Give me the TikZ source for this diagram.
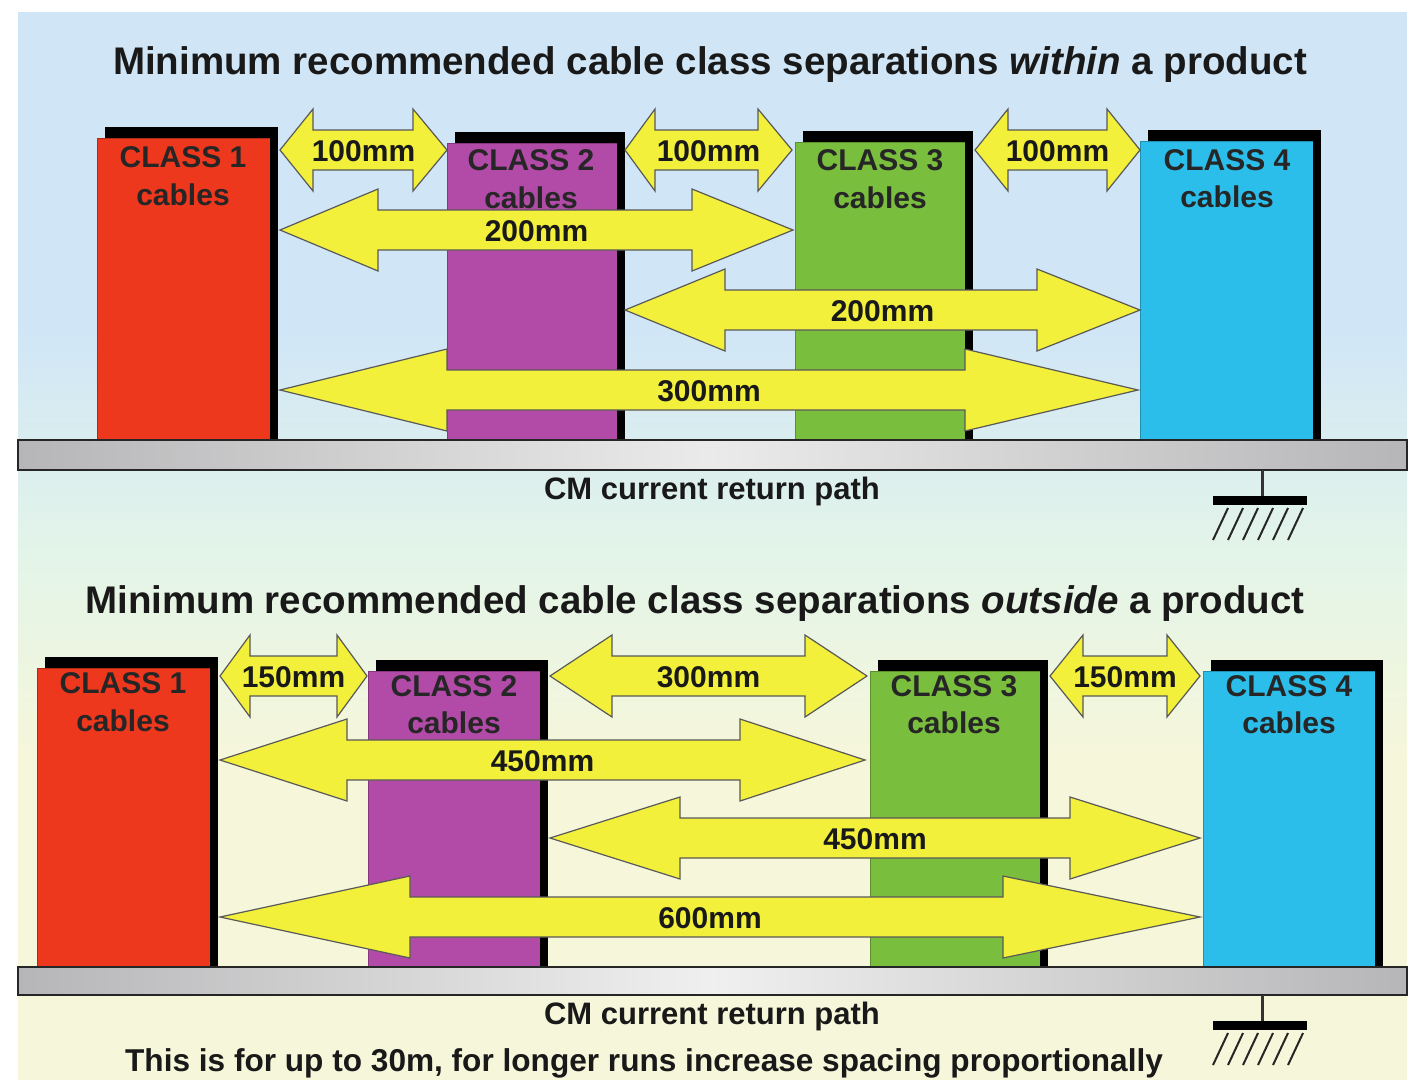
\documentclass[tikz,border=0pt]{standalone}
\usepackage{fontspec}
\setmainfont{Liberation Sans}
\definecolor{bgblue}{RGB}{208,230,246}
\definecolor{bggreen}{RGB}{228,245,232}
\definecolor{bgyellow}{RGB}{246,246,218}
\definecolor{cred}{RGB}{238,56,30}
\definecolor{cpurple}{RGB}{178,74,168}
\definecolor{cgreen}{RGB}{122,190,62}
\definecolor{cblue}{RGB}{44,190,234}
\definecolor{ayellow}{RGB}{242,240,58}
\definecolor{bargray}{RGB}{182,182,184}
\newcommand\mybox[5]{%
  \fill[black] (#1+8,#3-11) rectangle (#2+8,#4);
  \fill[#5] (#1,#3) rectangle (#2,#4);
  \draw[#5!75!black, line width=0.8pt] (#1,#4) -- (#1,#3) -- (#2,#3);
}
\newcommand\dblarr[7]{%
  \filldraw[arr] (#1,#5) -- (#2,#5-41) -- (#2,#5-20) -- (#3,#5-20) -- (#3,#5-41) -- (#4,#5)
     -- (#3,#5+41) -- (#3,#5+20) -- (#2,#5+20) -- (#2,#5+41) -- cycle;
  \node[lbl] (#6) at ({(#1+#4)/2},#5+1) {#7};
}
\newcommand\myground[2]{%
  \draw[line width=3pt, black!80] (#1,#2) -- (#1,#2+28);
  \fill[black] (#1-49,#2+26) rectangle (#1+45,#2+35);
  \foreach \i in {0,...,5}
    \draw[line width=2pt, black!85] (#1-34+\i*15,#2+38) -- (#1-49+\i*15,#2+70);
}
\begin{document}
\begin{tikzpicture}[x=1pt,y=-1pt,
  arr/.style={fill=ayellow, draw=black!65, line width=1.2pt, line join=miter},
  lbl/.style={font=\fontsize{30}{34}\selectfont\bfseries, inner sep=0pt, text=black!90},
  cls/.style={font=\fontsize{30}{34}\selectfont\bfseries, inner sep=0pt, text=black!85},
  ttl/.style={font=\fontsize{38.5}{44}\selectfont\bfseries, inner sep=0pt, text=black!90},
  note/.style={font=\fontsize{31}{34}\selectfont\bfseries, inner sep=0pt, text=black!90}]
\useasboundingbox (0,0) rectangle (1412,1080);
\fill[white] (0,0) rectangle (1412,1080);
% backgrounds
\fill[bgblue] (18,12) rectangle (1407,330);
\shade[top color=bgblue, bottom color=bggreen] (18,329) rectangle (1407,566);
\shade[top color=bggreen, bottom color=bgyellow] (18,565) rectangle (1407,760);
\fill[bgyellow] (18,759) rectangle (1407,1080);

% ---------- top panel ----------
\node[ttl] (title1) at (710,65) {Minimum recommended cable class separations \textit{within} a product};
\mybox{97}{270}{138}{440}{cred}
\mybox{447}{617}{143}{440}{cpurple}
\mybox{795}{965}{142}{440}{cgreen}
\mybox{1140}{1313}{141}{440}{cblue}
\node[cls] (a1) at (183,157) {CLASS 1};
\node[cls] (a1b) at (183,195) {cables};
\node[cls] (a2) at (531,160) {CLASS 2};
\node[cls] (a2b) at (531,198) {cables};
\node[cls] (a3) at (880,160) {CLASS 3};
\node[cls] (a3b) at (880,198) {cables};
\node[cls] (a4) at (1227,160) {CLASS 4};
\node[cls] (a4b) at (1227,197) {cables};
\shade[left color=bargray, right color=bargray, middle color=black!8, draw=black!85, line width=2pt] (18,440) rectangle (1407,470);
\node[note] (cm1) at (712,491) {CM current return path};
\myground{1262}{470}
\dblarr{280}{313}{413}{447}{150}{d1}{100mm}
\dblarr{625}{655}{758}{792}{150}{d2}{100mm}
\dblarr{975}{1008}{1107}{1140}{150}{d3}{100mm}
\dblarr{280}{378}{692}{793}{230}{d4}{200mm}
\dblarr{625}{725}{1037}{1140}{310}{d5}{200mm}
\dblarr{280}{447}{965}{1138}{390}{d6}{300mm}

% ---------- bottom panel ----------
\node[ttl] (title2) at (695,604) {Minimum recommended cable class separations \textit{outside} a product};
\mybox{37}{210}{668}{967}{cred}
\mybox{368}{540}{671}{967}{cpurple}
\mybox{870}{1040}{671}{967}{cgreen}
\mybox{1203}{1375}{671}{967}{cblue}
\node[cls] (b1) at (123,683) {CLASS 1};
\node[cls] (b1b) at (123,721) {cables};
\node[cls] (b2) at (454,686) {CLASS 2};
\node[cls] (b2b) at (454,723) {cables};
\node[cls] (b3) at (954,686) {CLASS 3};
\node[cls] (b3b) at (954,723) {cables};
\node[cls] (b4) at (1289,686) {CLASS 4};
\node[cls] (b4b) at (1289,723) {cables};
\shade[left color=bargray, right color=bargray, middle color=black!6, draw=black!85, line width=2pt] (18,967) rectangle (1407,995);
\node[note] (cm2) at (712,1016) {CM current return path};
\node[font=\fontsize{31.6}{34}\selectfont\bfseries, inner sep=0pt, text=black!90] (runs) at (644,1063) {This is for up to 30m, for longer runs increase spacing proportionally};
\myground{1262}{995}
\dblarr{220}{250}{337}{367}{676}{e1}{150mm}
\dblarr{550}{612}{805}{867}{676}{e2}{300mm}
\dblarr{1050}{1083}{1167}{1200}{676}{e3}{150mm}
\dblarr{220}{347}{740}{865}{760}{e4}{450mm}
\dblarr{550}{680}{1070}{1200}{838}{e5}{450mm}
\dblarr{220}{410}{1003}{1200}{917}{e6}{600mm}
\end{tikzpicture}
\end{document}
